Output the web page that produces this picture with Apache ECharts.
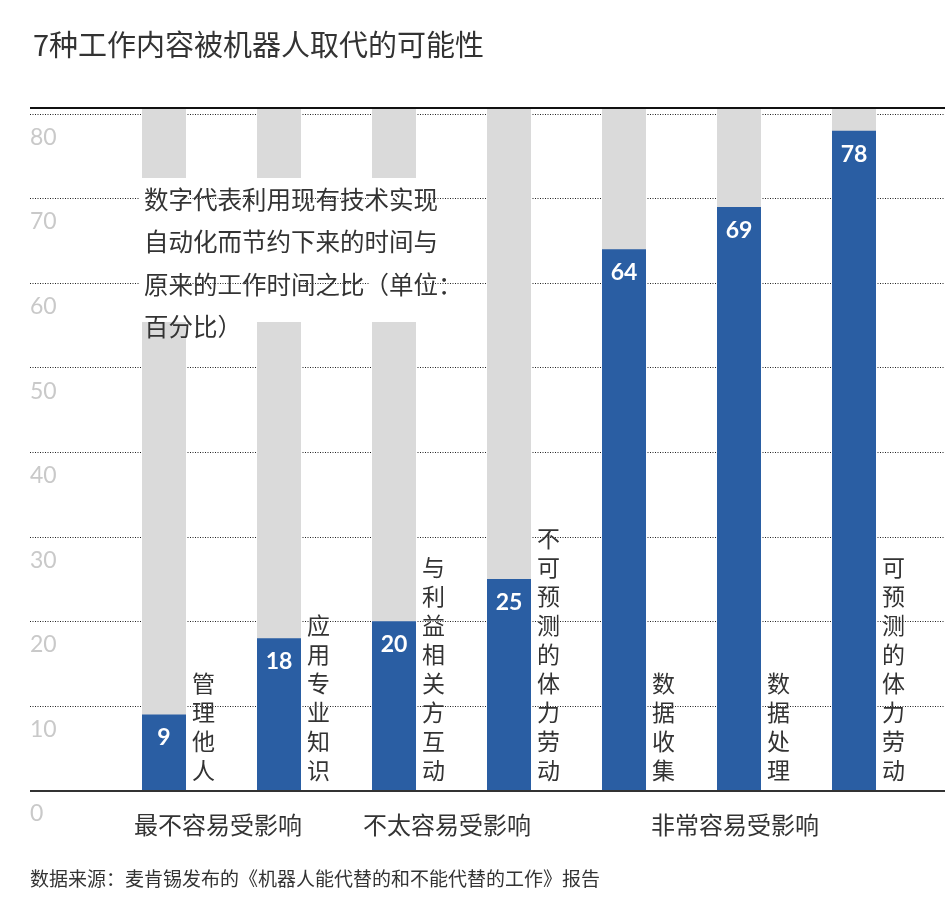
<!DOCTYPE html>
<html>
<head>
<meta charset="utf-8">
<script src="https://cdn.jsdelivr.net/npm/echarts@6/dist/echarts.min.js"></script>
<style>
  html, body { margin: 0; padding: 0; background: #fff; }
  #main { width: 945px; height: 922px; }
</style>
</head>
<body>
<div id="main"></div>
<script>
var categories = ["管理他人", "应用专业知识", "与利益相关方互动", "不可预测的体力劳动", "数据收集", "数据处理", "可预测的体力劳动"];
var values = [9, 18, 20, 25, 64, 69, 78];
var yTicks = [0, 10, 20, 30, 40, 50, 60, 70, 80];
var groupLabels = ["最不容易受影响", "不太容易受影响", "非常容易受影响"];
var noteText = "数字代表利用现有技术实现\n自动化而节约下来的时间与\n原来的工作时间之比（单位：\n百分比）";

var FONT = "'Noto Sans CJK SC', 'Noto Sans', sans-serif";
var BLUE = "#2a5ea3";
var GREY = "#dadada";

var dom = document.getElementById("main");
var myChart = echarts.init(dom, null, { renderer: "canvas" });

var option = {
  animation: false,
  textStyle: { fontFamily: FONT },
  title: {
    text: "7种工作内容被机器人取代的可能性",
    left: 28,
    top: 25,
    textStyle: { fontSize: 29, fontWeight: "normal", color: "#333", fontFamily: FONT }
  },
  grid: [
    { left: 30, right: 0, top: 108, bottom: 131.5 },
    { left: 106.5, width: 805, top: 108, bottom: 131.5 }
  ],
  xAxis: [
    { gridIndex: 0, type: "value", show: false, min: 0, max: 1 },
    {
      gridIndex: 1, type: "category", data: categories,
      axisLine: { show: false }, axisTick: { show: false }, axisLabel: { show: false }
    }
  ],
  yAxis: [
    {
      gridIndex: 0, type: "value", min: 0, max: 80.7, interval: 10,
      axisLine: { show: false }, axisTick: { show: false },
      axisLabel: {
        inside: true, margin: 0, align: "left", verticalAlign: "top",
        padding: [12, 0, 0, 0], fontSize: 23, color: "#c9c9c9", fontFamily: "Lato, sans-serif",
        formatter: function (v) { return yTicks.indexOf(v) >= 0 ? String(v) : ""; }
      },
      splitLine: { show: true, lineStyle: { color: "#222", type: [1, 1.5], width: 1 } }
    },
    { gridIndex: 1, type: "value", min: 0, max: 80.7, show: false }
  ],
  series: [
    {
      type: "bar", xAxisIndex: 1, yAxisIndex: 1,
      data: values, barWidth: 44,
      showBackground: true, backgroundStyle: { color: GREY },
      itemStyle: { color: BLUE },
      label: {
        show: true, position: "insideTop", distance: 12,
        color: "#fff", fontSize: 23, fontWeight: "bold", fontFamily: "Lato, sans-serif"
      }
    },
    {
      type: "bar", xAxisIndex: 1, yAxisIndex: 1,
      data: values, barWidth: 44, barGap: "-100%",
      itemStyle: { color: "rgba(0,0,0,0)" },
      label: {
        show: true, position: ["100%", "100%"], offset: [6, -6],
        align: "left", verticalAlign: "bottom",
        fontSize: 23, lineHeight: 29, color: "#333",
        formatter: function (p) { return categories[p.dataIndex].split("").join("\n"); }
      }
    }
  ],
  graphic: [
    { type: "rect", z: 10, shape: { x: 140, y: 178, width: 48, height: 144 }, style: { fill: "#fff" } },
    { type: "rect", z: 10, shape: { x: 255, y: 178, width: 48, height: 144 }, style: { fill: "#fff" } },
    { type: "rect", z: 10, shape: { x: 370, y: 178, width: 48, height: 144 }, style: { fill: "#fff" } },
    {
      type: "text", z: 11, left: 144, top: 178,
      style: { text: noteText, lineHeight: 42.5, fill: "#333", font: "24.5px " + FONT }
    },
    { type: "line", z: 12, shape: { x1: 30, y1: 108, x2: 945, y2: 108 }, style: { stroke: "#111", lineWidth: 2 } },
    { type: "line", z: 12, shape: { x1: 30, y1: 791, x2: 945, y2: 791 }, style: { stroke: "#333", lineWidth: 2 } },
    { type: "text", z: 11, x: 218, y: 825, style: { text: groupLabels[0], font: "24px " + FONT, fill: "#333", textAlign: "center", textVerticalAlign: "middle" } },
    { type: "text", z: 11, x: 447, y: 825, style: { text: groupLabels[1], font: "24px " + FONT, fill: "#333", textAlign: "center", textVerticalAlign: "middle" } },
    { type: "text", z: 11, x: 735, y: 825, style: { text: groupLabels[2], font: "24px " + FONT, fill: "#333", textAlign: "center", textVerticalAlign: "middle" } },
    {
      type: "text", z: 11, x: 30, y: 879,
      style: { text: "数据来源：麦肯锡发布的《机器人能代替的和不能代替的工作》报告", font: "19px " + FONT, fill: "#333", textVerticalAlign: "middle" }
    }
  ]
};

myChart.setOption(option);
window.addEventListener("resize", myChart.resize);
</script>
</body>
</html>
